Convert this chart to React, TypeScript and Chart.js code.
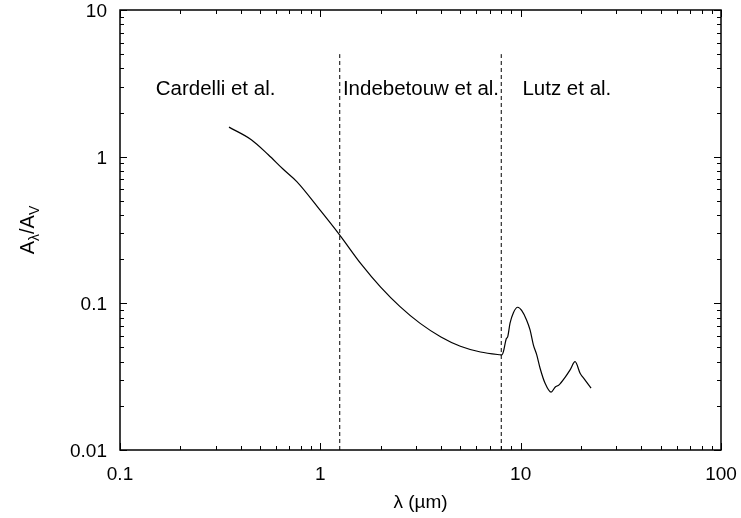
import { useEffect, useRef } from "react";
import { Chart, registerables } from "chart.js";

Chart.register(...registerables);

const FONT = '"Liberation Sans", Arial, Helvetica, sans-serif';

// wavelength in micrometres
const WAVELENGTH = [
  0.35, 0.454, 0.55, 0.653, 0.763, 1.0, 1.25, 1.6, 2.0, 2.5, 3.15, 4.0, 5.0, 6.3, 7.9,
  8.05, 8.2, 8.46, 8.62, 8.85, 9.2, 9.67, 10.13, 10.7, 11.14, 11.57, 12.03, 12.5, 13.24,
  14.19, 14.85, 15.55, 16.66, 17.65, 18.69, 19.8, 20.8, 22.46,
];
// A_lambda / A_V
const EXTINCTION = [
  1.59, 1.3, 1.03, 0.82, 0.676, 0.43, 0.292, 0.185, 0.129, 0.095, 0.073, 0.059, 0.051, 0.0466, 0.0446,
  0.0445, 0.0469, 0.0569, 0.0593, 0.0732, 0.0864, 0.094, 0.0892, 0.0771, 0.0659, 0.0521, 0.0445, 0.0361, 0.0285,
  0.0248, 0.0268, 0.0278, 0.0313, 0.0352, 0.04, 0.0334, 0.0304, 0.0264,
];

const BOUNDARIES = [1.25, 8];
const BOUNDARY_SPAN = [0.01, 5];

const REGION_LABELS = ["Cardelli et al.", "Indebetouw et al.", "Lutz et al."];
const REGION_LABEL_LAMBDA = [0.3, 3.18, 17.0];
const REGION_LABEL_LEVEL = 2.63;

const X_TICKS = [0.1, 1, 10, 100];
const X_TICK_LABELS = ["0.1", "1", "10", "100"];
const Y_TICKS = [0.01, 0.1, 1, 10];
const Y_TICK_LABELS = ["0.01", "0.1", "1", "10"];

const framePlugin = {
  id: "frameAndText",
  afterDatasetsDraw(chart: any) {
    const { ctx, chartArea } = chart;
    const { left, right, top, bottom } = chartArea;
    const xs = chart.scales.x;
    const ys = chart.scales.y;
    ctx.save();
    ctx.strokeStyle = "#000";
    ctx.lineWidth = 1.5;
    ctx.strokeRect(left, top, right - left, bottom - top);

    ctx.lineWidth = 1;
    const major = 7;
    const minor = 4;
    for (let e = -1; e <= 2; e++) {
      for (let m = 1; m <= 9; m++) {
        const v = m * Math.pow(10, e);
        if (v < xs.min * 0.999 || v > xs.max * 1.001) continue;
        const px = Math.round(xs.getPixelForValue(v)) + 0.5;
        const len = m === 1 ? major : minor;
        ctx.beginPath();
        ctx.moveTo(px, bottom);
        ctx.lineTo(px, bottom - len);
        ctx.moveTo(px, top);
        ctx.lineTo(px, top + len);
        ctx.stroke();
      }
    }
    for (let e = -2; e <= 1; e++) {
      for (let m = 1; m <= 9; m++) {
        const v = m * Math.pow(10, e);
        if (v < ys.min * 0.999 || v > ys.max * 1.001) continue;
        const py = Math.round(ys.getPixelForValue(v)) + 0.5;
        const len = m === 1 ? major : minor;
        ctx.beginPath();
        ctx.moveTo(left, py);
        ctx.lineTo(left + len, py);
        ctx.moveTo(right, py);
        ctx.lineTo(right - len, py);
        ctx.stroke();
      }
    }

    ctx.fillStyle = "#000";
    // tick labels
    ctx.font = `19px ${FONT}`;
    ctx.textAlign = "center";
    ctx.textBaseline = "alphabetic";
    X_TICKS.forEach((v, i) => {
      ctx.fillText(X_TICK_LABELS[i], xs.getPixelForValue(v), 480);
    });
    ctx.textAlign = "right";
    Y_TICKS.forEach((v, i) => {
      ctx.fillText(Y_TICK_LABELS[i], left - 13, ys.getPixelForValue(v) + 7);
    });

    // region labels
    ctx.font = `20.5px ${FONT}`;
    ctx.textAlign = "center";
    REGION_LABELS.forEach((t, i) => {
      ctx.fillText(t, xs.getPixelForValue(REGION_LABEL_LAMBDA[i]), ys.getPixelForValue(REGION_LABEL_LEVEL));
    });

    // x title
    ctx.font = `19px ${FONT}`;
    ctx.fillText("λ (µm)", (left + right) / 2, 508);

    // y title  A_λ / A_V
    ctx.save();
    ctx.translate(34, (top + bottom) / 2);
    ctx.rotate(-Math.PI / 2);
    const big = `20px ${FONT}`;
    const small = `14px ${FONT}`;
    const parts: [string, string, number][] = [
      ["A", big, 0],
      ["λ", small, 5],
      ["/A", big, 0],
      ["V", small, 5],
    ];
    let total = 0;
    parts.forEach(([t, f]) => {
      ctx.font = f;
      total += ctx.measureText(t).width;
    });
    let x = -total / 2;
    ctx.textAlign = "left";
    parts.forEach(([t, f, dy]) => {
      ctx.font = f;
      ctx.fillText(t, x, dy);
      x += ctx.measureText(t).width;
    });
    ctx.restore();

    ctx.restore();
  },
};

export default function App() {
  const ref = useRef<HTMLCanvasElement>(null);
  useEffect(() => {
    document.body.style.margin = "0";
    const chart = new Chart(ref.current as HTMLCanvasElement, {
      type: "line",
      data: {
        datasets: [
          {
            data: WAVELENGTH.map((x, i) => ({ x, y: EXTINCTION[i] })),
            borderColor: "#000",
            borderWidth: 1.2,
            pointRadius: 0,
            cubicInterpolationMode: "monotone",
            fill: false,
          } as any,
          ...BOUNDARIES.map((b) => ({
            data: [
              { x: b, y: BOUNDARY_SPAN[0] },
              { x: b, y: BOUNDARY_SPAN[1] },
            ],
            borderColor: "#000",
            borderWidth: 1,
            borderDash: [4, 3],
            pointRadius: 0,
            fill: false,
          })),
        ],
      },
      options: {
        responsive: false,
        animation: false,
        devicePixelRatio: 1,
        layout: { padding: { left: 0, right: 20, top: 10, bottom: 0 } },
        plugins: { legend: { display: false }, tooltip: { enabled: false } },
        scales: {
          x: {
            type: "logarithmic",
            min: 0.1,
            max: 100,
            grid: { display: false, drawTicks: false },
            border: { display: false },
            ticks: { display: false },
            afterFit: (s: any) => {
              s.height = 68;
            },
          },
          y: {
            type: "logarithmic",
            min: 0.01,
            max: 10,
            grid: { display: false, drawTicks: false },
            border: { display: false },
            ticks: { display: false },
            afterFit: (s: any) => {
              s.width = 120;
            },
          },
        },
      } as any,
      plugins: [framePlugin],
    });
    return () => chart.destroy();
  }, []);
  return <canvas ref={ref} width={741} height={518} style={{ display: "block" }} />;
}
